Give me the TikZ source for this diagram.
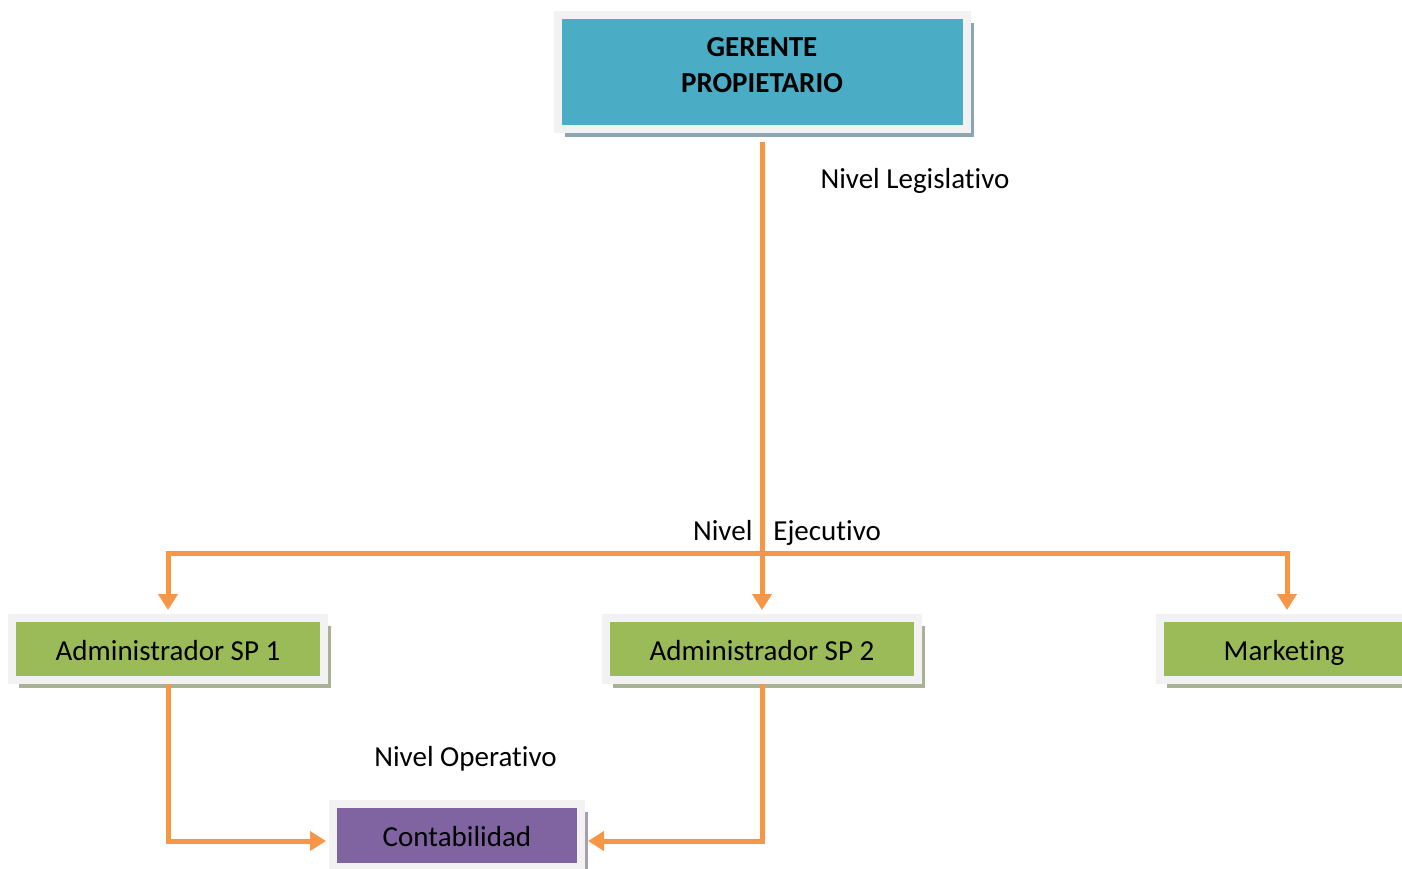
\documentclass[tikz,border=0pt]{standalone}
\usepackage{fontspec}
\setmainfont{Carlito}[Ligatures=NoCommon]
\usetikzlibrary{arrows.meta,shadows,calc}
\definecolor{frame}{RGB}{242,242,242}
\definecolor{teal}{RGB}{75,172,198}
\definecolor{grn}{RGB}{155,187,89}
\definecolor{purp}{RGB}{128,100,162}
\definecolor{orng}{RGB}{247,150,70}
\definecolor{shteal}{RGB}{140,165,178}
\definecolor{shgrn}{RGB}{170,178,150}
\definecolor{shpurp}{RGB}{165,160,172}
\tikzset{
  box/.style={rectangle, draw=frame, line width=8pt, inner sep=0pt, align=center,
    font=\fontsize{29}{36}\selectfont},
  onebox/.style={box, text height=24pt, text depth=2pt},
  conn/.style={draw=orng, line width=5pt},
  arr/.style={conn, -{Triangle[width=19pt,length=16pt]}, shorten >=4pt},
  lbl/.style={inner sep=0pt, font=\fontsize{29}{36}\selectfont},
}
\begin{document}
\begin{tikzpicture}[x=1pt,y=-1pt]
\useasboundingbox (0,0) rectangle (1402,868);
\clip (0,0) rectangle (1402,868);
\node[box, fill=teal, minimum width=409pt, minimum height=114pt,
  general shadow={fill=shteal, shadow xshift=7pt, shadow yshift=-8pt},
  font=\fontsize{29}{36}\selectfont\bfseries] (ger) at (762,72)
  {\raisebox{-2pt}[0pt][0pt]{\begin{tabular}{@{}c@{}}GERENTE\\PROPIETARIO\end{tabular}}};
\node[onebox, fill=grn, minimum width=312pt, minimum height=62pt,
  general shadow={fill=shgrn, shadow xshift=7pt, shadow yshift=-8pt}] (a1) at (168,649) {Administrador SP 1};
\node[onebox, fill=grn, minimum width=312pt, minimum height=62pt,
  general shadow={fill=shgrn, shadow xshift=7pt, shadow yshift=-8pt}] (a2) at (762,649) {Administrador SP 2};
\node[onebox, fill=grn, minimum width=248pt, minimum height=62pt,
  general shadow={fill=shgrn, shadow xshift=7pt, shadow yshift=-8pt}] (mk) at (1284,649) {Marketing};
\node[onebox, fill=purp, minimum width=248pt, minimum height=63pt,
  general shadow={fill=shpurp, shadow xshift=7pt, shadow yshift=-8pt}] (ct) at (457,835.5) {Contabilidad};

\node[lbl] (l1) at (915,181) {Nivel Legislativo};
\node[lbl] (l2) at (787,533) {Nivel\hspace{21pt}Ejecutivo};
\node[lbl] (l3) at (465.5,759) {Nivel Operativo};

\coordinate (j1) at (168,553);
\coordinate (j2) at (1287,553);
\draw[conn] ([xshift=-2.5pt]j1) -- ([xshift=2.5pt]j2);
\draw[arr] (j1) -- (a1.north);
\draw[arr] (j2) -- (j2 |- mk.north);
\draw[arr, shorten <=9pt] (ger.south) -- (a2.north);
\draw[arr, shorten >=3pt] (a1.south) |- ([yshift=-5.5pt]ct.west);
\draw[arr, shorten >=3pt] (a2.south) |- ([yshift=-5.5pt]ct.east);
\end{tikzpicture}
\end{document}
